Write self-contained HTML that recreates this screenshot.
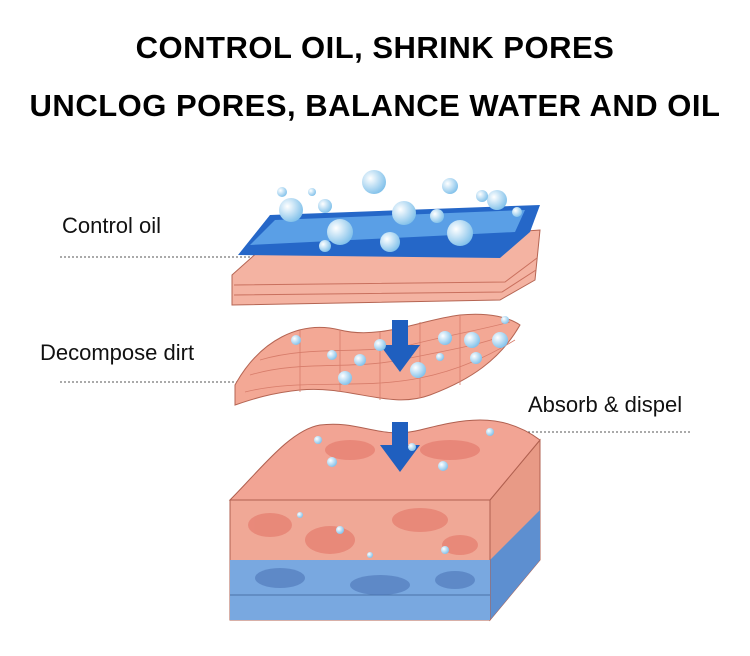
<!DOCTYPE html>
<html><head><meta charset="utf-8"><style>
html,body{margin:0;padding:0;background:#fff;}
body{width:750px;height:656px;overflow:hidden;position:relative;font-family:"Liberation Sans",sans-serif;}
.t{position:absolute;left:0;width:750px;text-align:center;font-weight:bold;font-size:31px;color:#000;letter-spacing:0.5px;}
.l{position:absolute;font-size:22px;color:#111;}
</style></head><body>
<div class="t" style="top:30px;">CONTROL OIL, SHRINK PORES</div>
<div class="t" style="top:88px;">UNCLOG PORES, BALANCE WATER AND OIL</div>
<div class="l" style="left:62px;top:213px;">Control oil</div>
<div class="l" style="left:40px;top:340px;">Decompose dirt</div>
<div class="l" style="left:528px;top:392px;">Absorb &amp; dispel</div>
<svg width="750" height="656" style="position:absolute;left:0;top:0">
<g stroke="#555" stroke-width="1" stroke-dasharray="2,2">
<line x1="60" y1="257" x2="255" y2="257"/>
<line x1="60" y1="382" x2="250" y2="382"/>
<line x1="500" y1="432" x2="690" y2="432"/>
</g>
<!-- bottom block -->
<path d="M490,500 L540,440 L540,560 L490,620 Z" fill="#e89a86" stroke="#b06050"/>
<path d="M490,560 L540,510 L540,560 L490,620 Z" fill="#5d8fd0"/>
<path d="M230,500 L490,500 L490,620 L230,620 Z" fill="#f0a896" stroke="#b06050"/>
<path d="M230,560 L490,560 L490,620 L230,620 Z" fill="#79a8e0"/>
<line x1="230" y1="595" x2="490" y2="595" stroke="#4a72a8"/>
<path d="M230,500 C260,470 290,430 320,425 C360,420 380,440 420,430 C460,420 500,410 540,440 L490,500 Z" fill="#f2a494" stroke="#b06050"/>
<g fill="#e57c6e" opacity="0.7">
<ellipse cx="270" cy="525" rx="22" ry="12"/><ellipse cx="330" cy="540" rx="25" ry="14"/>
<ellipse cx="420" cy="520" rx="28" ry="12"/><ellipse cx="460" cy="545" rx="18" ry="10"/>
<ellipse cx="350" cy="450" rx="25" ry="10"/><ellipse cx="450" cy="450" rx="30" ry="10"/>
</g>
<g fill="#4d76b8" opacity="0.6">
<ellipse cx="280" cy="578" rx="25" ry="10"/><ellipse cx="380" cy="585" rx="30" ry="10"/><ellipse cx="455" cy="580" rx="20" ry="9"/>
</g>
<!-- middle sheet -->
<path d="M235,385 C260,340 300,320 340,330 C380,340 420,320 460,315 C490,312 510,318 520,325 C500,360 470,380 430,395 C390,410 350,385 300,390 C270,393 250,400 235,405 Z" fill="#f3a895" stroke="#b56553"/>
<g stroke="#d77c6a" stroke-width="0.8" fill="none">
<path d="M250,375 C300,360 350,370 400,360 C450,350 480,345 505,335"/>
<path d="M260,360 C310,345 360,355 410,345 C450,335 480,330 510,322"/>
<path d="M245,392 C300,378 360,390 420,378 C460,370 490,355 515,340"/>
<line x1="300" y1="330" x2="300" y2="392"/><line x1="340" y1="330" x2="340" y2="392"/>
<line x1="380" y1="332" x2="380" y2="400"/><line x1="420" y1="322" x2="420" y2="398"/><line x1="460" y1="315" x2="460" y2="385"/>
</g>
<!-- top layers -->
<path d="M232,275 L260,250 L540,230 L535,280 L500,300 L232,305 Z" fill="#f4b3a2" stroke="#b56553"/>
<g stroke="#c9705e" fill="none"><path d="M234,285 L505,282 L537,258"/><path d="M234,295 L502,292 L536,270"/></g>
<path d="M238,255 L270,215 L540,205 L530,232 L500,258 Z" fill="#2567c8"/>
<path d="M250,245 L275,220 L525,210 L515,232 Z" fill="#5a9fe6"/>
<!-- arrows -->
<g fill="#1f5fbf">
<path d="M392,320 L408,320 L408,345 L420,345 L400,372 L380,345 L392,345 Z"/>
<path d="M392,422 L408,422 L408,445 L420,445 L400,472 L380,445 L392,445 Z"/>
</g>
<!-- bubbles -->
<defs><radialGradient id="b" cx="0.35" cy="0.35" r="0.7"><stop offset="0" stop-color="#fff"/><stop offset="1" stop-color="#7fc0ea"/></radialGradient></defs>
<g fill="url(#b)">
<circle cx="374" cy="182" r="12"/><circle cx="291" cy="210" r="12"/><circle cx="340" cy="232" r="13"/>
<circle cx="404" cy="213" r="12"/><circle cx="460" cy="233" r="13"/><circle cx="390" cy="242" r="10"/>
<circle cx="497" cy="200" r="10"/><circle cx="450" cy="186" r="8"/><circle cx="325" cy="206" r="7"/>
<circle cx="437" cy="216" r="7"/><circle cx="482" cy="196" r="6"/><circle cx="282" cy="192" r="5"/>
<circle cx="517" cy="212" r="5"/><circle cx="312" cy="192" r="4"/><circle cx="325" cy="246" r="6"/>
<circle cx="472" cy="340" r="8"/><circle cx="500" cy="340" r="8"/><circle cx="445" cy="338" r="7"/>
<circle cx="418" cy="370" r="8"/><circle cx="345" cy="378" r="7"/><circle cx="360" cy="360" r="6"/>
<circle cx="296" cy="340" r="5"/><circle cx="332" cy="355" r="5"/><circle cx="476" cy="358" r="6"/>
<circle cx="380" cy="345" r="6"/><circle cx="505" cy="320" r="4"/><circle cx="440" cy="357" r="4"/>
<circle cx="332" cy="462" r="5"/><circle cx="443" cy="466" r="5"/><circle cx="412" cy="447" r="4"/>
<circle cx="318" cy="440" r="4"/><circle cx="490" cy="432" r="4"/><circle cx="340" cy="530" r="4"/>
<circle cx="445" cy="550" r="4"/><circle cx="300" cy="515" r="3"/><circle cx="370" cy="555" r="3"/>
</g>
</svg>
</body></html>
